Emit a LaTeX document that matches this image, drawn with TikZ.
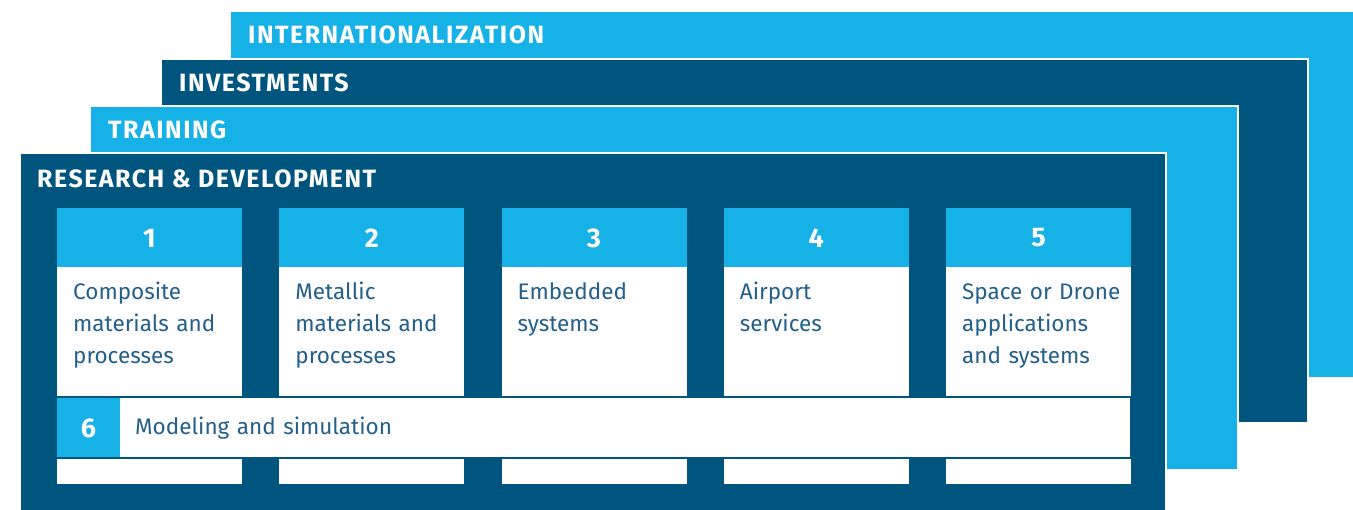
\documentclass[tikz,border=0pt]{standalone}
\usepackage{fontspec}
\setmainfont{Fira Sans}
\newfontfamily\capsfont[LetterSpace=6]{Fira Sans}
\usetikzlibrary{positioning}
\definecolor{lightb}{HTML}{16B1E7}
\definecolor{darkb}{HTML}{00557F}
\definecolor{bodytext}{HTML}{22608A}
\tikzset{
  layer/.style={draw=white, line width=2pt},
  headlab/.style={anchor=base west, inner sep=0pt, text=white, font=\capsfont\bfseries\fontsize{25}{25}\selectfont},
  numbox/.style={fill=lightb},
  bodybox/.style={fill=white},
  numlab/.style={inner sep=0pt, text=white, font=\bfseries\fontsize{27}{27}\selectfont},
  bodylab/.style={anchor=base west, inner sep=0pt, text width=160pt, align=left, text=bodytext, font=\fontsize{22.5}{32}\selectfont},
  band/.style={fill=white, draw=darkb, line width=2.5pt},
}
\begin{document}
\begin{tikzpicture}[x=1pt, y=-1pt]
  \useasboundingbox (0,0) rectangle (1353,510);
  % stacked layers, back to front
  \draw[layer, fill=lightb] (230,11) rectangle (1356,378);
  \node[headlab] (intl) at (248,44) {INTERNATIONALIZATION};
  \draw[layer, fill=darkb] (161,59) rectangle (1308,423);
  \node[headlab] (invest) at (179,92) {INVESTMENTS};
  \draw[layer, fill=lightb] (90,106) rectangle (1238,470);
  \node[headlab] (train) at (108,139) {TRAINING};
  \draw[layer, fill=darkb] (20,153) rectangle (1166,514);
  \node[headlab] (rnd) at (37,188) {RESEARCH \& DEVELOPMENT};
  % the five topics
  \foreach \i/\txt in {1/{Composite\\materials and\\processes},
                       2/{Metallic\\materials and\\processes},
                       3/{Embedded\\systems},
                       4/{Airport\\services},
                       5/{Space or Drone\\applications\\and systems}}{
    \pgfmathsetmacro{\xl}{57+(\i-1)*222.25}
    \fill[bodybox] (\xl,267) rectangle ++(185,217);
    \fill[numbox] (\xl,208) rectangle ++(185,59);
    \node[numlab] (num\i) at (\xl+92.5,238) {\i};
    \node[bodylab] (topic\i) at (\xl+16,300) {\txt};
  }
  % cross-cutting topic
  \draw[band] (57,397) rectangle (1131,458);
  \fill[numbox] (57,398.25) rectangle (120,456.75);
  \node[numlab] (num6) at (88.5,428) {6};
  \node[bodylab, text width=400pt] (topic6) at (135,435) {Modeling and simulation};
\end{tikzpicture}
\end{document}
